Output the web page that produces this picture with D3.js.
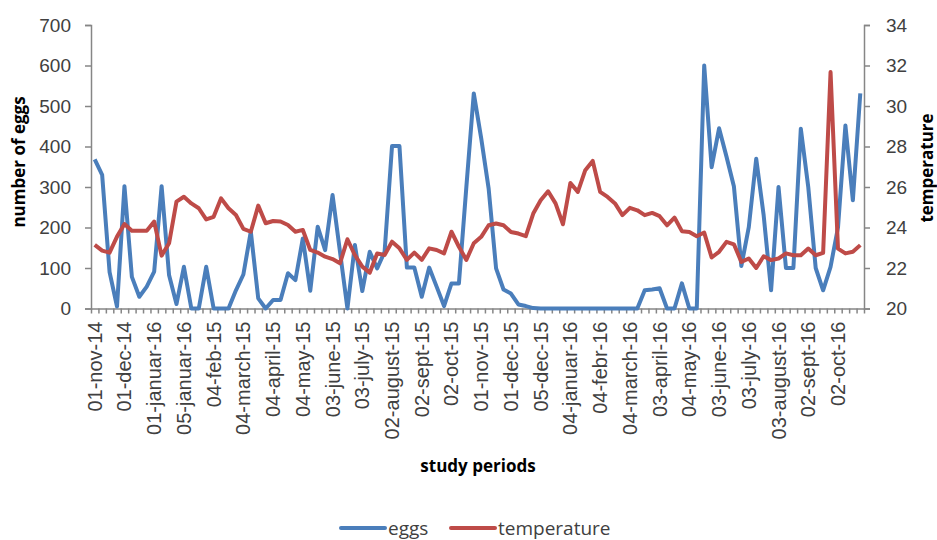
<!DOCTYPE html>
<html>
<head>
<meta charset="utf-8">
<script src="https://cdn.jsdelivr.net/npm/d3@7"></script>
<style>
  body { margin: 0; background: #fff; }
  svg { font-family: "Open Sans", sans-serif; }
  .axis path, .axis line { stroke: #868686; stroke-width: 1.5; }
  .axis text { fill: #404040; font-size: 19px; }
  .xlab text { font-size: 20px; }
  .title { font-weight: bold; font-size: 17px; fill: #000; }
</style>
</head>
<body>
<svg width="937" height="540"></svg>
<script>
// tick labels shown every 4th period, as written on the original chart
const tickLabels = ['01-nov-14', '01-dec-14', '01-januar-16', '05-januar-16', '04-feb-15', '04-march-15',
  '04-april-15', '04-may-15', '03-june-15', '03-july-15', '02-august-15', '02-sept-15', '02-oct-15',
  '01-nov-15', '01-dec-15', '05-dec-15', '04-januar-16', '04-febr-16', '04-march-16', '03-april-16',
  '04-may-16', '03-june-16', '03-july-16', '03-august-16', '02-sept-16', '02-oct-16']

const eggs = [368, 330, 90, 5, 302, 78, 29, 54, 91, 302,
  83, 11, 103, 0, 0, 103, 0, 0, 0, 45,
  84, 190, 25, 0, 21, 21, 87, 70, 173, 44,
  202, 144, 280, 140, 0, 157, 43, 140, 99, 140,
  401, 401, 101, 101, 29, 101, 54, 6, 62, 62,
  300, 531, 420, 296, 99, 47, 37, 10, 6, 1,
  0, 0, 0, 0, 0, 0, 0, 0, 0, 0,
  0, 0, 0, 0, 45, 47, 50, 0, 0, 62,
  0, 0, 600, 349, 445, 375, 301, 105, 201, 370,
  230, 45, 300, 100, 100, 444, 300, 100, 45, 103,
  200, 452, 267, 531]

const temperature = [23.14, 22.86, 22.76, 23.55, 24.17, 23.84, 23.84, 23.84, 24.29, 22.61,
  23.22, 25.28, 25.52, 25.19, 24.95, 24.40, 24.53, 25.44, 24.95, 24.62,
  23.93, 23.79, 25.08, 24.21, 24.32, 24.30, 24.12, 23.79, 23.88, 22.89,
  22.76, 22.56, 22.44, 22.23, 23.42, 22.64, 22.07, 21.77, 22.72, 22.64,
  23.30, 22.97, 22.40, 22.76, 22.40, 22.97, 22.89, 22.72, 23.79, 23.05,
  22.40, 23.22, 23.54, 24.11, 24.20, 24.11, 23.78, 23.70, 23.57, 24.69,
  25.35, 25.79, 25.19, 24.16, 26.20, 25.76, 26.83, 27.29, 25.76, 25.51,
  25.19, 24.61, 24.97, 24.85, 24.61, 24.72, 24.56, 24.11, 24.49, 23.82,
  23.78, 23.57, 23.75, 22.52, 22.80, 23.29, 23.17, 22.30, 22.47, 22.00,
  22.58, 22.39, 22.47, 22.72, 22.63, 22.63, 22.96, 22.63, 22.75, 31.68,
  22.96, 22.72, 22.80, 23.13]

const eggTicks = [0, 100, 200, 300, 400, 500, 600, 700]
const tempTicks = [20, 22, 24, 26, 28, 30, 32, 34]

const plot = { left: 91, right: 864, top: 25, bottom: 308.5 }
const periods = eggs.map((d, i) => i)

const svg = d3.select('svg')

const xScale = d3.scaleBand()
  .domain(periods)
  .range([plot.left, plot.right])
  .padding(0)
const xEdge = d3.scaleLinear()
  .domain([0, periods.length])
  .range([plot.left, plot.right])
const yEggs = d3.scaleLinear().domain([0, 700]).range([plot.bottom, plot.top])
const yTemp = d3.scaleLinear().domain([20, 34]).range([plot.bottom, plot.top])

const xCenter = i => xScale(i) + xScale.bandwidth() / 2

// small tick marks on every period boundary
svg.append('g')
  .attr('class', 'axis')
  .attr('transform', `translate(0,${plot.bottom})`)
  .call(d3.axisBottom(xEdge).tickValues(d3.range(periods.length + 1)).tickFormat('').tickSize(5).tickSizeOuter(0))

// labels every 4th period
const xLab = svg.append('g')
  .attr('class', 'axis xlab')
  .attr('transform', `translate(0,${plot.bottom})`)
  .call(d3.axisBottom(xScale)
    .tickValues(periods.filter(i => i % 4 === 0))
    .tickFormat(i => tickLabels[i / 4])
    .tickSize(0))
xLab.select('.domain').remove()
xLab.selectAll('text')
  .attr('transform', 'rotate(-90)')
  .attr('text-anchor', 'end')
  .attr('x', -13)
  .attr('y', 0)
  .attr('dy', '0.35em')

svg.append('g')
  .attr('class', 'axis')
  .attr('transform', `translate(${plot.left},0)`)
  .call(d3.axisLeft(yEggs).tickValues(eggTicks).tickSize(6).tickSizeOuter(6).tickPadding(14))

svg.append('g')
  .attr('class', 'axis')
  .attr('transform', `translate(${plot.right},0)`)
  .call(d3.axisRight(yTemp).tickValues(tempTicks).tickSize(6).tickSizeOuter(6).tickPadding(16))

const eggLine = d3.line()
  .x((d, i) => xCenter(i))
  .y(d => yEggs(d))
const tempLine = d3.line()
  .x((d, i) => xCenter(i))
  .y(d => yTemp(d))

svg.append('path')
  .datum(eggs)
  .attr('fill', 'none')
  .attr('stroke', '#4a7ebb')
  .attr('stroke-width', 4)
  .attr('stroke-linejoin', 'round')
  .attr('d', eggLine)

svg.append('path')
  .datum(temperature)
  .attr('fill', 'none')
  .attr('stroke', '#be4b48')
  .attr('stroke-width', 4)
  .attr('stroke-linejoin', 'round')
  .attr('d', tempLine)

// axis titles
svg.append('text')
  .attr('class', 'title')
  .attr('transform', 'translate(25,162) rotate(-90)')
  .attr('text-anchor', 'middle')
  .text('number of eggs')

svg.append('text')
  .attr('class', 'title')
  .attr('transform', 'translate(933,168) rotate(-90)')
  .attr('text-anchor', 'middle')
  .text('temperature')

svg.append('text')
  .attr('class', 'title')
  .attr('x', 478)
  .attr('y', 472)
  .attr('text-anchor', 'middle')
  .text('study periods')

// legend
const legend = [
  { name: 'eggs', color: '#4a7ebb', x: 341 },
  { name: 'temperature', color: '#be4b48', x: 451 }
]
const lg = svg.selectAll('.legend')
  .data(legend)
  .enter()
  .append('g')
  .attr('transform', d => `translate(${d.x},528)`)
lg.append('line')
  .attr('x1', 0).attr('x2', 44)
  .attr('stroke', d => d.color)
  .attr('stroke-width', 4)
  .attr('stroke-linecap', 'round')
lg.append('text')
  .attr('x', 47)
  .attr('dy', '0.35em')
  .attr('font-size', 19)
  .attr('fill', '#404040')
  .text(d => d.name)
</script>
</body>
</html>
